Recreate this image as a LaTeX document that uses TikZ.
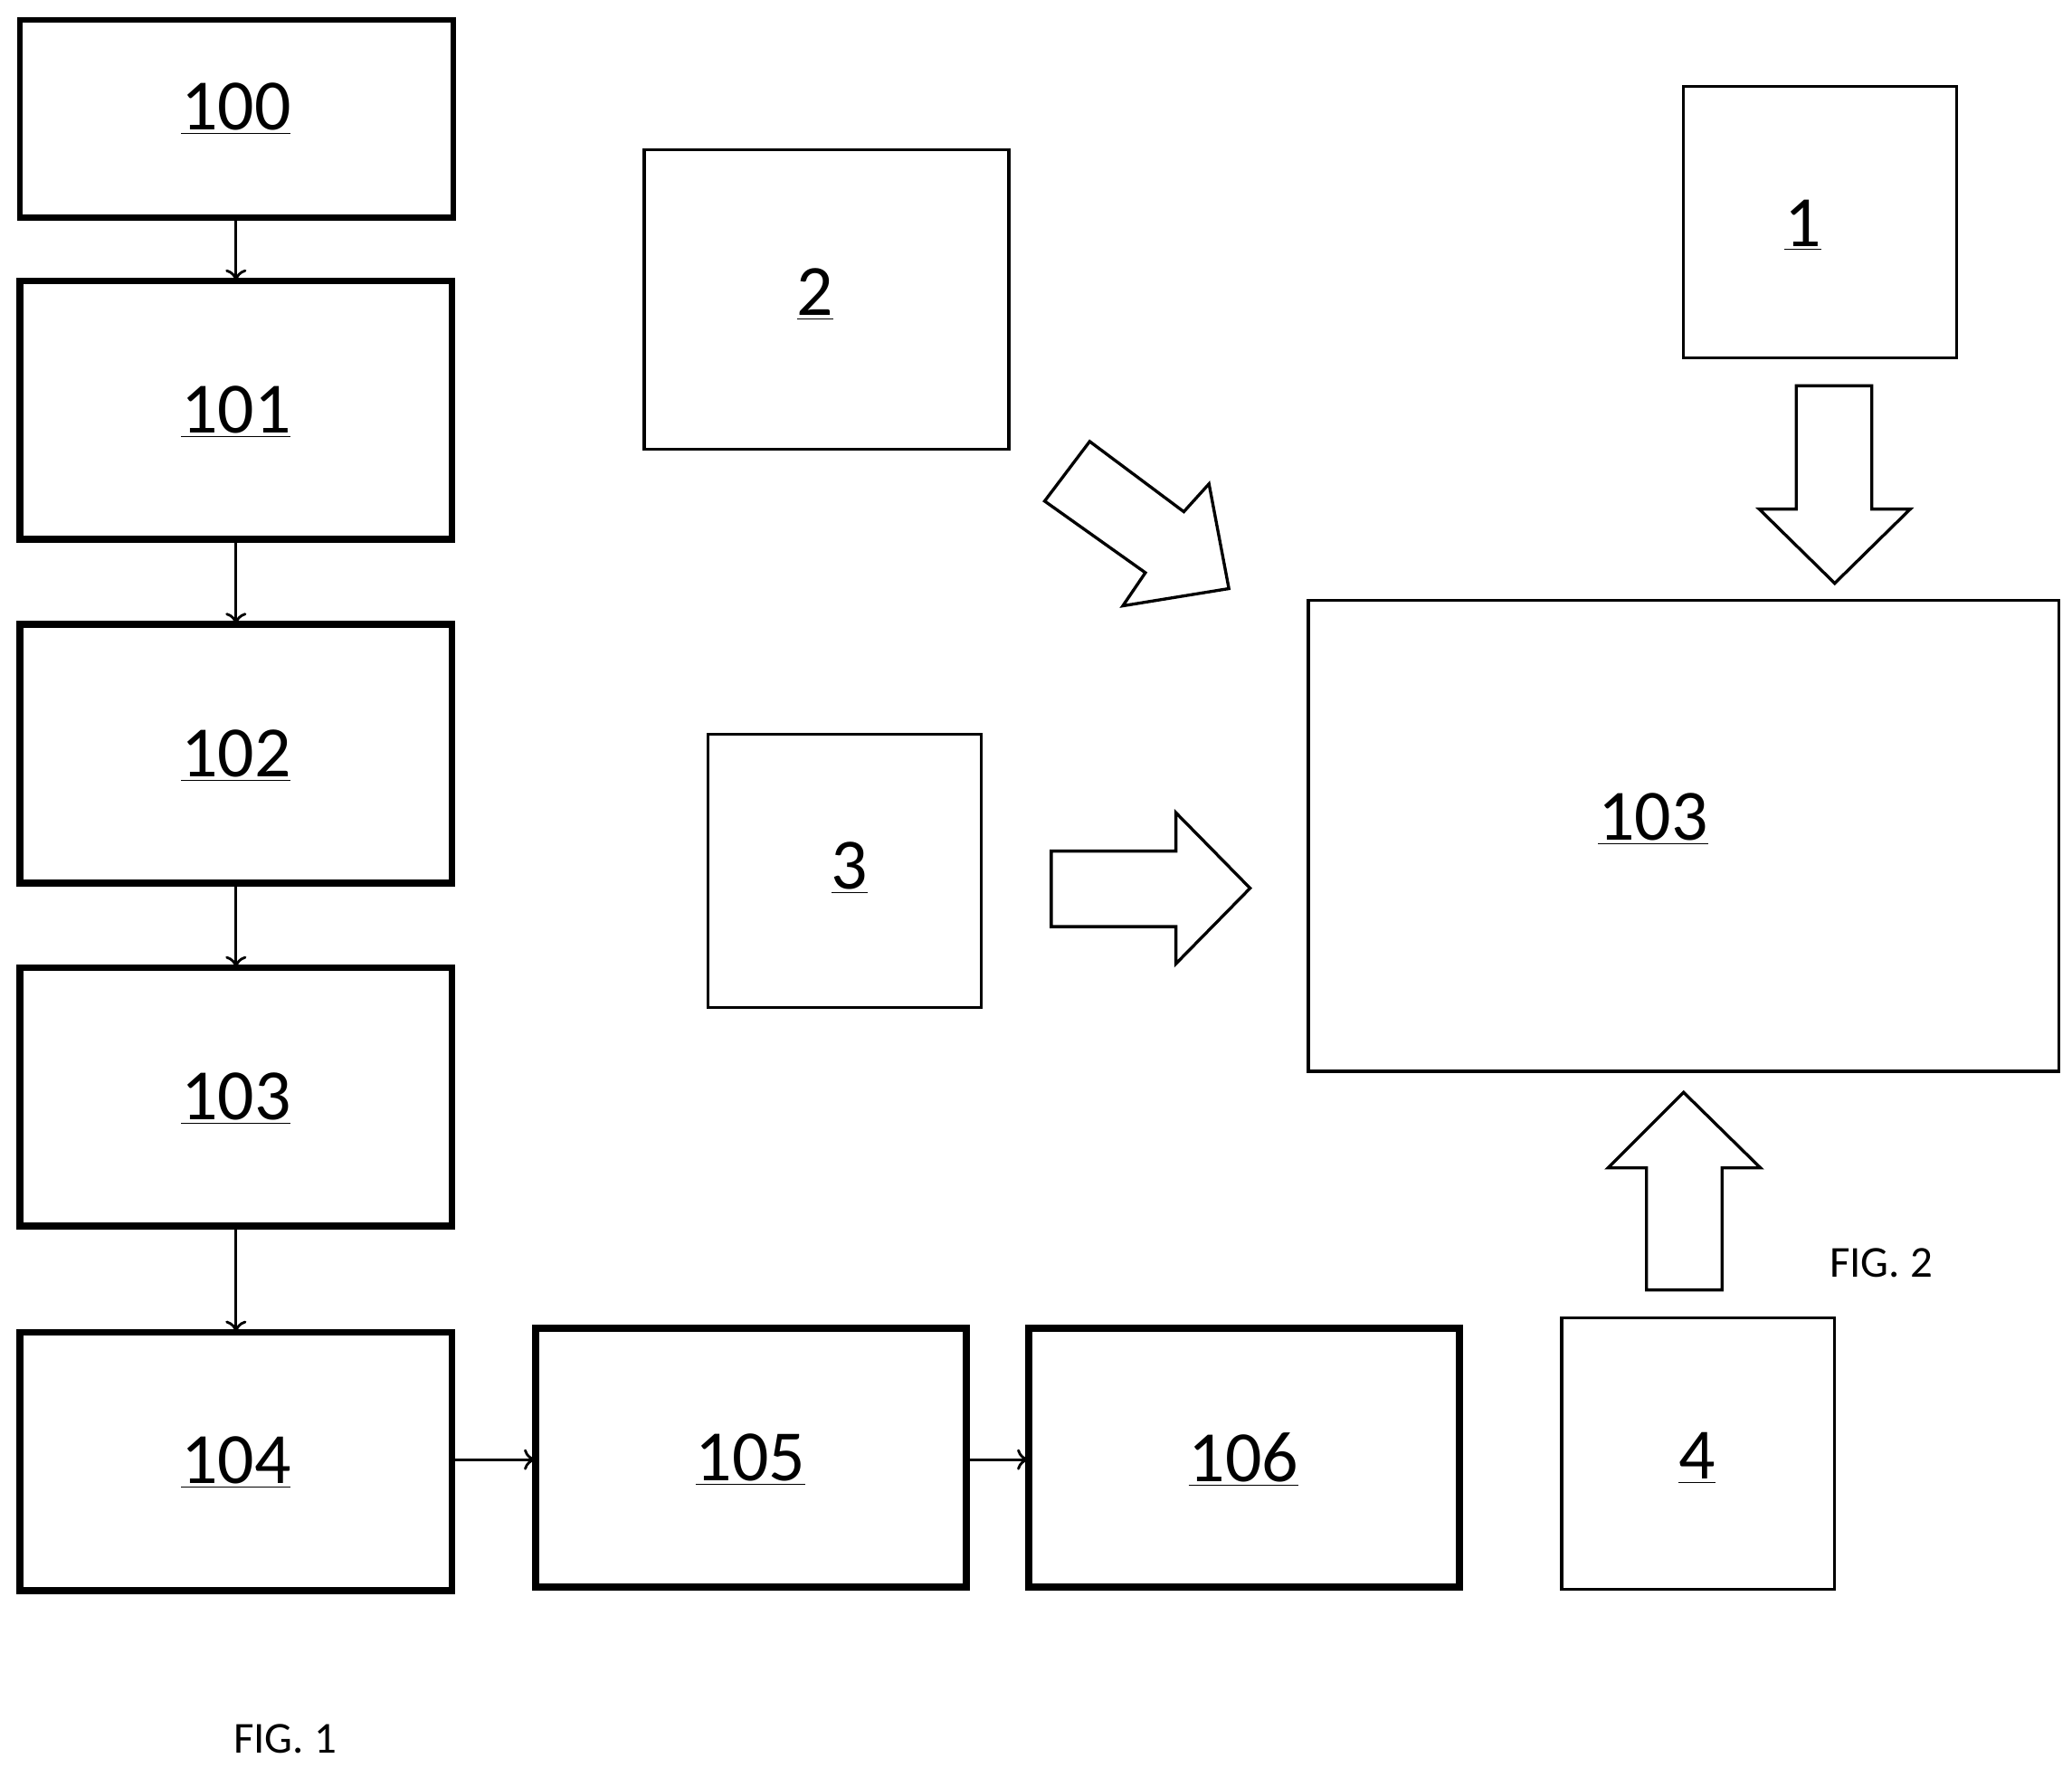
\documentclass[tikz,border=0pt]{standalone}
\usepackage{fontspec}
\setmainfont{Carlito}
\usetikzlibrary{arrows.meta}
\begin{document}
\begin{tikzpicture}[x=0.02cm,y=-0.02cm,
  thk/.style={draw,line width=3pt},
  thn/.style={draw,line width=1.3pt},
  lbl/.style={font=\fontsize{31}{36}\selectfont},
  fig/.style={font=\fontsize{19}{23}\selectfont},
  ar/.style={-{To[length=5pt,width=9pt]},line width=1.1pt},
  blk/.style={draw,line width=1.3pt,fill=white}]
\useasboundingbox (0,0) rectangle (1563,1333);
\draw[thk,line width=2.5pt] (15,15) rectangle (342,164);
\node[lbl] (n100) at (178,82) {\underline{100}};
\coordinate (b100) at (178,164);
\draw[thk] (15,212) rectangle (341,407); \node[lbl] (n101) at (178,311) {\underline{101}};
\draw[thk] (15,471) rectangle (341,666); \node[lbl] (n102) at (178,570) {\underline{102}};
\draw[thk] (15,730) rectangle (341,925); \node[lbl] (n103) at (178,829) {\underline{103}};
\draw[thk] (15,1005) rectangle (341,1200); \node[lbl] (n104) at (178,1103) {\underline{104}};
\draw[thk] (404,1002) rectangle (729,1197); \node[lbl] (n105) at (566,1101) {\underline{105}};
\draw[thk] (776,1002) rectangle (1101,1197); \node[lbl] (n106) at (938,1101) {\underline{106}};
\coordinate (t101) at (178,212); \coordinate (b101) at (178,407);
\coordinate (t102) at (178,471); \coordinate (b102) at (178,666);
\coordinate (t103) at (178,730); \coordinate (b103) at (178,925);
\coordinate (t104) at (178,1005); \coordinate (r104) at (341,1101);
\coordinate (l105) at (404,1101); \coordinate (r105) at (729,1101);
\coordinate (l106) at (776,1101);
\draw[ar] (b100) -- (t101);
\draw[ar] (b101) -- (t102);
\draw[ar] (b102) -- (t103);
\draw[ar] (b103) -- (t104);
\draw[ar] (r104) -- (l105);
\draw[ar] (r105) -- (l106);
\node[fig] (f1) at (215,1312) {FIG. 1};
\draw[thn] (486,113) rectangle (761,339); \node[lbl] (n2) at (615,222) {\underline{2}};
\draw[thn] (1270,65) rectangle (1476,270); \node[lbl] (n1) at (1360,170) {\underline{1}};
\draw[thn] (534,554) rectangle (740,760); \node[lbl] (n3) at (641,655) {\underline{3}};
\draw[thn] (1178,994) rectangle (1384,1199); \node[lbl] (n4) at (1280,1100) {\underline{4}};
\draw[thn] (987,453) rectangle (1553,808); \node[lbl] (nb) at (1247,618) {\underline{103}};
\node[fig] (f2) at (1419,953) {FIG. 2};
\draw[blk] (1355,291) -- (1412,291) -- (1412,384) -- (1441,384) -- (1384,440) -- (1327,384) -- (1355,384) -- cycle;
\draw[blk] (1242,973) -- (1299,973) -- (1299,881) -- (1328,881) -- (1270,824) -- (1213,881) -- (1242,881) -- cycle;
\draw[blk] (793,642) -- (887,642) -- (887,613) -- (943,670) -- (887,727) -- (887,699) -- (793,699) -- cycle;
\draw[blk] (788,378) -- (822,333) -- (893,386) -- (912,365) -- (927,444) -- (847,457) -- (864,432) -- cycle;
\end{tikzpicture}
\end{document}
